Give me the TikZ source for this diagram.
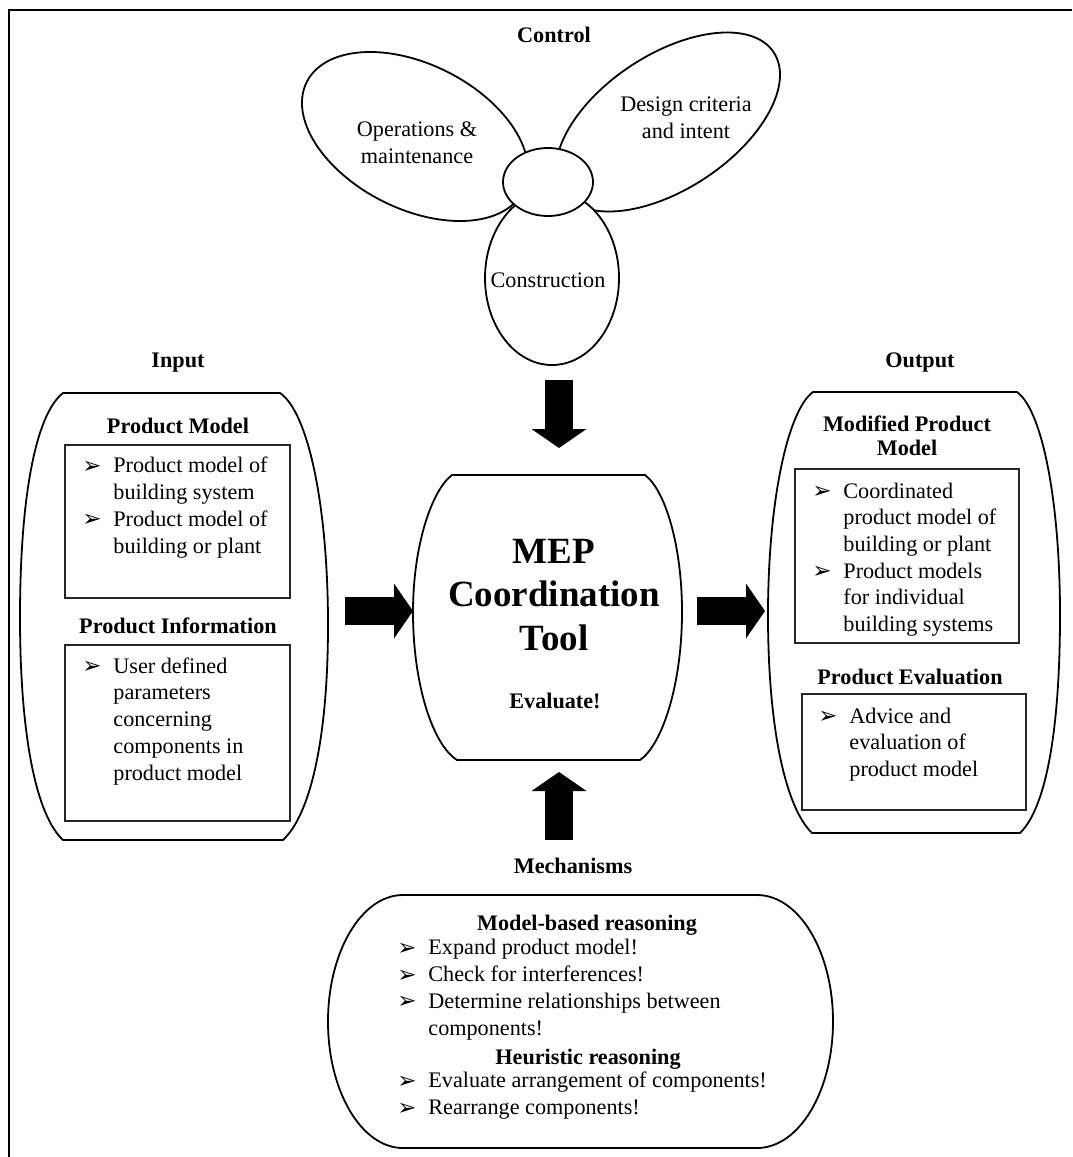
\documentclass[tikz,border=0pt]{standalone}
\usepackage{fontspec}
\setmainfont{Liberation Serif}
\newfontfamily\symfont{DejaVu Sans Bold}
\usetikzlibrary{arrows.meta,calc}
% list bullet and list lines
\newcommand\bul{\raisebox{-0.3pt}{\symfont\fontsize{11.5}{10}\selectfont ➢}}
\newcommand\itm[1]{\makebox[15.5pt][l]{\bul}#1}
\newcommand\cnt[1]{\hspace*{15.5pt}#1}

\begin{document}
\begin{tikzpicture}[x=0.5pt,y=-0.5pt,
  txt/.style={inner sep=0pt, font=\fontsize{11.1}{13.35}\selectfont},
  hd/.style={inner sep=0pt, font=\fontsize{11.1}{13.35}\selectfont\bfseries, anchor=base, align=center},
  lst/.style={txt, align=left, anchor=base west},
  ctr/.style={txt, align=center, anchor=base},
  outline/.style={draw=black, line width=0.9pt, line join=round},
  panel/.style={draw=black!85, line width=0.75pt},
  petal/.style={outline, fill=white},
  blockarrow/.style={line width=14pt, -{Triangle[length=9.5pt,width=27.5pt,line width=0pt]}},
]
\useasboundingbox (0,0) rectangle (1072,1157);

% outer frame
\draw[line width=0.9pt] (1072,10) -- (9,10) -- (9,1157);

% multi-line nodes below are anchored at the baseline of their last line

% ---------- control: three petals around a hub ----------
\node[hd] (control) at (554,42) {Control};
\draw[petal, rotate around={-26.75:(415,136.5)}] (415,136.5) ellipse [x radius=60.6pt, y radius=36.15pt];
\draw[petal, rotate around={33.4:(668,122)}] (668,122) ellipse [x radius=63.3pt, y radius=33.65pt];
\draw[petal] (552,278) ellipse [x radius=33.5pt, y radius=43.5pt];
\draw[petal] (548,182) ellipse [x radius=22.5pt, y radius=17pt];
\node[ctr] (ops) at (417,163.5) {Operations \&\\maintenance};
\node[ctr] (design) at (686,138.5) {Design criteria\\and intent};
\node[ctr] (constr) at (548,287) {Construction};

% ---------- input ----------
\node[hd] (inputhd) at (178,367) {Input};
\draw[outline] (63,393) -- (280,393)
  .. controls (308,412) and (328,505) .. (328,625)
  .. controls (328,740) and (310,815) .. (283,840)
  -- (63,840)
  .. controls (36,815) and (20,735) .. (20,617)
  .. controls (20,500) and (35,415) .. cycle;
\node[hd] (pmhd) at (178,433) {Product Model};
\draw[panel] (65,445) rectangle (290,598);
\node[lst] (pmlist) at (82,553) {\itm{Product model of}\\\cnt{building system}\\\itm{Product model of}\\\cnt{building or plant}};
\node[hd] (pihd) at (178,633) {Product Information};
\draw[panel] (65,645) rectangle (290,821);
\node[lst] (pilist) at (82,780) {\itm{User defined}\\\cnt{parameters}\\\cnt{concerning}\\\cnt{components in}\\\cnt{product model}};

% ---------- tool ----------
\draw[outline] (452,475) -- (645,475)
  .. controls (665,490) and (682,545) .. (682,612)
  .. controls (682,685) and (662,745) .. (640,760)
  -- (457,760)
  .. controls (433,745) and (413,685) .. (413,612)
  .. controls (413,545) and (432,490) .. cycle;
\node[ctr, font=\fontsize{18.5}{21.75}\selectfont\bfseries] (mep) at (554,650) {MEP\\Coordination\\Tool};
\node[hd] (evaluate) at (555,708) {Evaluate!};

% ---------- output ----------
\node[hd] (outputhd) at (920,367) {Output};
\draw[outline] (813,392) -- (1017,392)
  .. controls (1042,410) and (1060,500) .. (1060,615)
  .. controls (1060,730) and (1046,808) .. (1020,833)
  -- (812,833)
  .. controls (786,808) and (768,730) .. (768,615)
  .. controls (768,500) and (788,410) .. cycle;
\node[hd] (mpmhd) at (907,455) {Modified Product\\[-1.35pt]Model};
\draw[panel] (795,469) rectangle (1019,643);
\node[lst] (mpmlist) at (812,631.5) {\itm{Coordinated}\\\cnt{product model of}\\\cnt{building or plant}\\\itm{Product models}\\\cnt{for individual}\\\cnt{building systems}};
\node[hd] (pehd) at (910,684) {Product Evaluation};
\draw[panel] (802,694) rectangle (1026,810);
\node[lst] (pelist) at (818,776.5) {\itm{Advice and}\\\cnt{evaluation of}\\\cnt{product model}};

% ---------- mechanisms ----------
\node[hd] (mechhd) at (573,873) {Mechanisms};
\draw[outline] (403,895) -- (757,895)
  arc[start angle=90, end angle=-90, x radius=38pt, y radius=63.25pt]
  -- (403,1148)
  arc[start angle=270, end angle=90, x radius=37.5pt, y radius=63.25pt] -- cycle;
\node[hd] (mbrhd) at (587,930) {Model-based reasoning};
\node[lst] (mbrlist) at (397,1035) {\itm{Expand product model!}\\\itm{Check for interferences!}\\\itm{Determine relationships between}\\\cnt{components!}};
\node[hd] (hrhd) at (588,1064) {Heuristic reasoning};
\node[lst] (hrlist) at (397,1114.5) {\itm{Evaluate arrangement of components!}\\\itm{Rearrange components!}};

% ---------- block arrows into and out of the tool ----------
\coordinate (inp-out) at (345,611);
\coordinate (tool-w) at (413,611);
\coordinate (tool-out) at (697,611);
\coordinate (outp-in) at (765,611);
\coordinate (ctrl-out) at (559,380);
\coordinate (tool-n) at (559,448);
\coordinate (mech-out) at (559,840);
\coordinate (tool-s) at (559,772);
\draw[blockarrow] (inp-out) -- (tool-w);
\draw[blockarrow] (tool-out) -- (outp-in);
\draw[blockarrow] (ctrl-out) -- (tool-n);
\draw[blockarrow] (mech-out) -- (tool-s);
\end{tikzpicture}
\end{document}
